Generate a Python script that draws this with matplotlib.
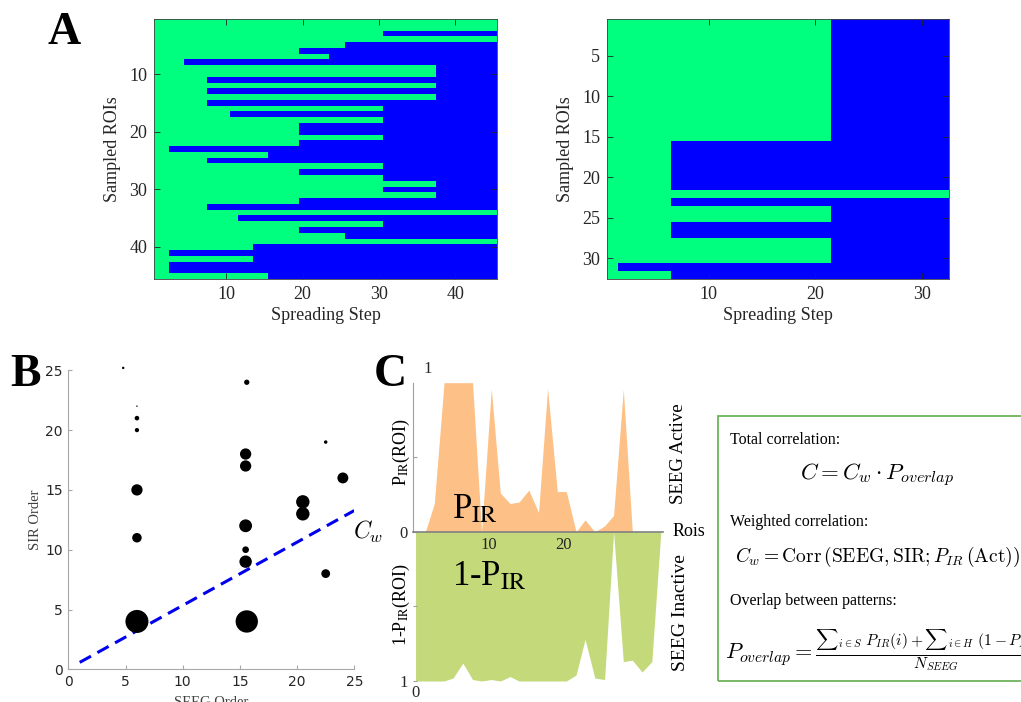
import numpy as np
import matplotlib
matplotlib.use("Agg")
import matplotlib.pyplot as plt
from matplotlib.colors import ListedColormap
from matplotlib.patches import Rectangle

plt.rcParams['font.family'] = 'serif'
plt.rcParams['font.serif'] = ['Liberation Serif', 'DejaVu Serif']

W, H = 1021, 702
never = 99  # ROI that never switches within the shown steps

# A: spreading step at which each sampled ROI switches (green -> blue)
left_onset = [never, never, 31, never, 26, 20, 24, 5, 38, 38, 8, 38, 8, 38, 8,
              31, 11, 31, 20, 20, 31, 20, 3, 16, 8, 31, 20, 31, 38, 31, 38, 20,
              8, never, 12, 31, 20, 26, never, 14, 3, 14, 3, 3, 16]
left_steps = 45
right_onset = [22] * 15 + [7] * 6 + [never, 7, 22, 22, 7, 7, 22, 22, 22, 2, 7]
right_steps = 32

# B: SEEG order vs SIR order, dot area ~ weight
seeg_order = [4.8, 6, 6, 6, 6, 6, 6, 15.6, 15.5, 15.5, 15.5, 15.5, 15.5, 15.6,
              20.5, 20.5, 22.5, 22.5, 24]
sir_order = [25.2, 22, 21, 20, 15, 11, 4, 24, 18, 17, 12, 10, 9, 4,
             14, 13, 19, 8, 16]
weight = [0.011, 0.004, 0.04, 0.034, 0.24, 0.17, 1.0, 0.053, 0.24, 0.24, 0.31,
          0.084, 0.29, 0.94, 0.34, 0.34, 0.023, 0.146, 0.225]
cw_slope = 0.529
cw_intercept = 0.05

# C: P_IR per ROI (active) and 1-P_IR (inactive)
roi_x = [0.3, 1.6, 2.8, 4.1, 5.3, 6.6, 7.9, 9.1, 10.4, 11.6, 12.9, 14.1, 15.4,
         16.7, 17.9, 19.2, 20.4, 21.7, 22.9, 24.2, 25.5, 26.7, 28.0, 29.2,
         30.5, 31.8, 33.0]
p_active = [0, 0, 0.19, 1, 1, 1, 1, 0, 0.96, 0.26, 0.19, 0.2, 0.28, 0.13, 0.96,
            0.27, 0.27, 0, 0.08, 0, 0.04, 0.11, 0.955, 0, 0, 0, 0]
p_inactive = [1, 1, 1, 1, 0.98, 0.88, 0.99, 1, 0.99, 1, 0.97, 1, 1, 1, 1, 1, 1,
              0.96, 0.72, 0.98, 0.99, 0, 0.87, 0.86, 0.94, 0.87, 0]

winter2 = ListedColormap([(0, 1, 0.5), (0, 0, 1)])
orange = '#FDC086'
olive = '#C3D97A'


def px(x0, y0, x1, y1):
    # pixel box -> figure fraction rect
    return [x0 / W, 1 - y1 / H, (x1 - x0) / W, (y1 - y0) / H]


def draw_spread(ax, onset, n_steps, xticks, yticks):
    steps = np.arange(1, n_steps + 1)
    grid = (steps[None, :] >= np.array(onset)[:, None]).astype(int)
    ax.imshow(grid, cmap=winter2, vmin=0, vmax=1, aspect='auto',
              interpolation='nearest',
              extent=(0.5, n_steps + 0.5, len(onset) + 0.5, 0.5))
    ax.set_xticks(xticks)
    ax.set_yticks(yticks)
    ax.tick_params(direction='in', top=True, right=True, labelsize=13,
                   colors='#262626', length=4, width=0.6, pad=5)
    ax.set_xlabel('Spreading Step', fontsize=13, labelpad=3, color='#262626')
    ax.set_ylabel('Sampled ROIs', fontsize=13, labelpad=6, color='#262626')
    for s in ax.spines.values():
        s.set_color('#404040')
        s.set_linewidth(0.6)


fig = plt.figure(figsize=(W / 100, H / 100), dpi=100)

# ---- A
axA1 = fig.add_axes(px(154, 19.3, 497, 278.7))
draw_spread(axA1, left_onset, left_steps, [10, 20, 30, 40], [10, 20, 30, 40])
axA2 = fig.add_axes(px(607, 19.3, 949, 278.7))
draw_spread(axA2, right_onset, right_steps, [10, 20, 30], [5, 10, 15, 20, 25, 30])

# ---- B
axB = fig.add_axes(px(68.3, 370.3, 354.3, 669.3))
axB.scatter(seeg_order, sir_order, s=np.array(weight) * 275, c='k',
            linewidths=0, zorder=3, clip_on=False)
xs = np.array([1, 25])
axB.plot(xs, cw_intercept + cw_slope * xs, color='#0000EE', lw=2.2,
         ls=(0, (4.2, 2.4)), zorder=2)
axB.set_xlim(0, 25)
axB.set_ylim(0, 25)
axB.set_xticks(range(0, 26, 5))
axB.set_yticks(range(0, 26, 5))
for s in ['top', 'right']:
    axB.spines[s].set_visible(False)
for s in ['left', 'bottom']:
    axB.spines[s].set_color('#a8a8a8')
    axB.spines[s].set_linewidth(0.8)
axB.tick_params(direction='in', length=3, color='#a8a8a8', labelsize=10,
                labelcolor='#262626', pad=4)
for lab in axB.get_xticklabels() + axB.get_yticklabels():
    lab.set_fontfamily('DejaVu Sans')
axB.set_xlabel('SEEG Order', fontsize=10.5, color='#404040', labelpad=5)
axB.set_ylabel('SIR Order', fontsize=10.5, color='#404040', labelpad=2)
axB.text(24.9, 11.5, r'$C_w$', fontsize=17, math_fontfamily='cm',
         va='center', ha='left', clip_on=False)

# ---- C
axC = fig.add_axes(px(413.3, 382.7, 662.7, 681))
axC.fill_between(roi_x, 0, p_active, color=orange, lw=0)
axC.fill_between(roi_x, 0, -np.array(p_inactive), color=olive, lw=0)
axC.set_xlim(0, 33.25)
axC.set_ylim(-1, 1)
for s in ['top', 'right']:
    axC.spines[s].set_visible(False)
axC.spines['bottom'].set_position(('data', 0))
axC.spines['bottom'].set_color('#808080')
axC.spines['bottom'].set_linewidth(1.2)
axC.spines['bottom'].set_zorder(5)
axC.spines['left'].set_color('#a0a0a0')
axC.spines['left'].set_bounds(0, 1)
axC.set_xticks([10, 20])
axC.tick_params(axis='x', length=0, labelsize=12, pad=4, labelcolor='#262626')
axC.set_yticks([-1, -0.5, 0, 0.5])
axC.set_yticklabels(['1', '', '0', ''])
axC.tick_params(axis='y', direction='in', length=3, color='#a0a0a0',
                labelsize=12, pad=4, labelcolor='#262626')

fig.text(428 / W, 1 - 369 / H, '1', fontsize=12, ha='center', va='center',
         color='#262626')
fig.text(415 / W, 1 - 693 / H, '0', fontsize=12, ha='center', va='center',
         color='#262626')
fig.text(673 / W, 1 - 531.7 / H, 'Rois', fontsize=13, va='center')
fig.text(678 / W, 1 - 454 / H, 'SEEG Active', fontsize=13.5, rotation=90,
         ha='center', va='center')
fig.text(680 / W, 1 - 613 / H, 'SEEG Inactive', fontsize=14, rotation=90,
         ha='center', va='center')
fig.text(401 / W, 1 - 452 / H, r'P$_{\rm IR}$(ROI)', fontsize=13, rotation=90,
         ha='center', va='center', math_fontfamily='stix')
fig.text(401 / W, 1 - 605 / H, r'1-P$_{\rm IR}$(ROI)', fontsize=13,
         rotation=90, ha='center', va='center', math_fontfamily='stix')
fig.text(452 / W, 1 - 518 / H, r'P$_{\rm IR}$', fontsize=25, va='baseline',
         math_fontfamily='stix')
fig.text(452 / W, 1 - 585 / H, r'1-P$_{\rm IR}$', fontsize=25, va='baseline',
         math_fontfamily='stix')

# formula box
fig.patches.append(Rectangle((718 / W, 1 - 681 / H), 0.4, (681 - 416) / H,
                             transform=fig.transFigure, fill=False,
                             edgecolor='#6DB35A', lw=1.3))
fig.text(730 / W, 1 - 440 / H, 'Total correlation:', fontsize=11.5,
         va='center')
fig.text(877 / W, 1 - 475 / H, r'$C = C_w \cdot P_{overlap}$', fontsize=16.5,
         ha='center', va='center', math_fontfamily='cm')
fig.text(730 / W, 1 - 522 / H, 'Weighted correlation:', fontsize=11.5,
         va='center')
fig.text(735 / W, 1 - 557 / H,
         r'$C_w = \mathrm{Corr}\,(\mathrm{SEEG}, \mathrm{SIR}; P_{IR}\,(\mathrm{Act}))$',
         fontsize=14, va='center', math_fontfamily='cm')
fig.text(730 / W, 1 - 601 / H, 'Overlap between patterns:', fontsize=11.5,
         va='center')
fig.text(725 / W, 1 - 650 / H,
         r'$P_{overlap} = \frac{{\sum}_{i\in S}\ P_{IR}(i) + {\sum}_{i\in H}\ (1 - P_{IR}(i))}{N_{SEEG}}$',
         fontsize=16, va='center', math_fontfamily='cm')

# panel letters
for lab, x, y in [('A', 64, 33), ('B', 25, 375), ('C', 390, 375)]:
    fig.text(x / W, 1 - y / H, lab, fontsize=33, fontweight='bold',
             ha='center', va='center')

fig.savefig('out.png', dpi=100)
